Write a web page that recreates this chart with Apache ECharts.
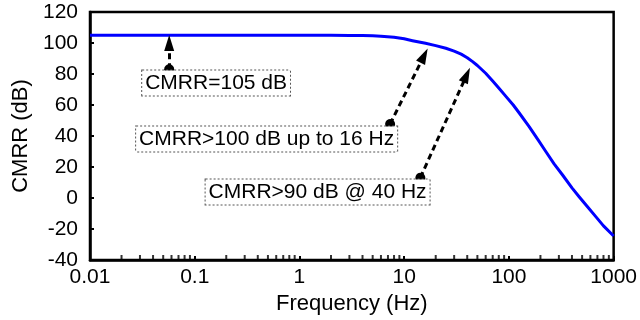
<!DOCTYPE html>
<html>
<head>
<meta charset="utf-8">
<script src="https://cdn.jsdelivr.net/npm/echarts@6/dist/echarts.min.js"></script>
<style>html,body{margin:0;padding:0;background:#fff}#c{width:640px;height:320px}</style>
</head>
<body>
<div id="c"></div>
<script>
// ---- data ----
const frequencyHz = [0.01, 0.1, 1, 2, 3, 4, 5, 6, 8, 10, 12, 16, 20, 25, 30, 35, 40, 45, 50, 60, 70, 80, 94, 110, 125, 156, 190, 225, 270, 324, 400, 468, 560, 675, 800, 1000];
const cmrrDb      = [105, 105, 105, 105, 104.9, 104.8, 104.6, 104.4, 103.7, 102.7, 101.5, 99.8, 98.3, 96.6, 94.8, 92.8, 90.5, 88, 85.5, 80.5, 75.5, 71, 65.4, 60, 55, 46, 37.5, 30, 22, 15, 6.5, 0.8, -5.5, -12, -18, -24.5];
const yTicks = [-40, -20, 0, 20, 40, 60, 80, 100, 120];
const xDecades = [0.01, 0.1, 1, 10, 100, 1000];
const minorMultipliers = [2, 3, 4, 5, 6, 7, 8, 9];
// annotations: text, box anchor [f, dB], arrow tail [f, dB], arrow head [f, dB]
const annoText = ['CMRR=105 dB', 'CMRR>100 dB up to 16 Hz', 'CMRR>90 dB @ 40 Hz'];
const annoBox  = [[0.16, 74.2], [0.486, 38.1], [1.49, 3.9]];
const annoTail = [[0.057, 83], [7.34, 47.7], [14.27, 13.1]];
const annoHead = [[0.057, 100], [15.5, 91.9], [39.5, 79.4]];

const FONT = 'Liberation Sans, Arial, sans-serif';
const minorTicks = [];
xDecades.slice(0, -1).forEach(d => minorMultipliers.forEach(m => minorTicks.push([d * m, yTicks[0]])));

const chart = echarts.init(document.getElementById('c'), null, {renderer: 'canvas'});
chart.setOption({
  animation: false,
  backgroundColor: '#fff',
  grid: {left: 90, right: 25, top: 12, bottom: 60, show: true, borderColor: '#000', borderWidth: 2.5, backgroundColor: 'transparent'},
  xAxis: {
    type: 'log', logBase: 10, min: xDecades[0], max: xDecades[xDecades.length - 1],
    name: 'Frequency (Hz)', nameLocation: 'middle', nameGap: 32,
    nameTextStyle: {fontFamily: FONT, fontSize: 22, color: '#000'},
    axisLine: {onZero: false, lineStyle: {color: '#000', width: 2.5}},
    axisTick: {show: true, inside: true, length: 4, lineStyle: {color: '#000', width: 2}},
    axisLabel: {fontFamily: FONT, fontSize: 21, color: '#000', margin: 7,
      formatter: v => String(+Number(v).toPrecision(6))},
    splitLine: {show: false}
  },
  yAxis: {
    type: 'value', min: yTicks[0], max: yTicks[yTicks.length - 1], interval: 20,
    name: 'CMRR (dB)', nameLocation: 'middle', nameGap: 58, nameRotate: 90,
    nameTextStyle: {fontFamily: FONT, fontSize: 22, color: '#000'},
    axisLine: {show: true, onZero: false, lineStyle: {color: '#000', width: 2.5}},
    axisTick: {show: true, inside: true, length: 4, lineStyle: {color: '#000', width: 2}},
    axisLabel: {fontFamily: FONT, fontSize: 21, color: '#000', margin: 12},
    splitLine: {show: false}
  },
  series: [
    {
      type: 'line', data: frequencyHz.map((f, i) => [f, cmrrDb[i]]),
      showSymbol: false, smooth: false,
      lineStyle: {color: '#0000ff', width: 3, join: 'round'}, z: 3,
      markLine: {
        silent: true, symbol: ['circle', 'triangle'], symbolSize: [10, 16],
        label: {show: false},
        lineStyle: {color: '#000', width: 3, type: [6, 4]},
        itemStyle: {color: '#000'},
        data: annoTail.map((t, i) => [{coord: t}, {coord: annoHead[i]}])
      },
      markPoint: {
        silent: true, symbol: 'rect', symbolSize: 1, itemStyle: {color: 'rgba(0,0,0,0)'},
        label: {show: true, position: 'inside', fontFamily: FONT, fontSize: 21, color: '#000',
          backgroundColor: '#fff', borderColor: '#555', borderWidth: 1, borderType: 'dotted',
          padding: [3, 3, 1, 3], formatter: p => p.name},
        data: annoBox.map((b, i) => ({name: annoText[i], coord: b}))
      }
    },
    {
      type: 'scatter', data: minorTicks, symbol: 'rect', symbolSize: [2, 5], symbolOffset: [0, -2.5],
      itemStyle: {color: '#000'}, silent: true, z: 4
    }
  ]
});
</script>
</body>
</html>
